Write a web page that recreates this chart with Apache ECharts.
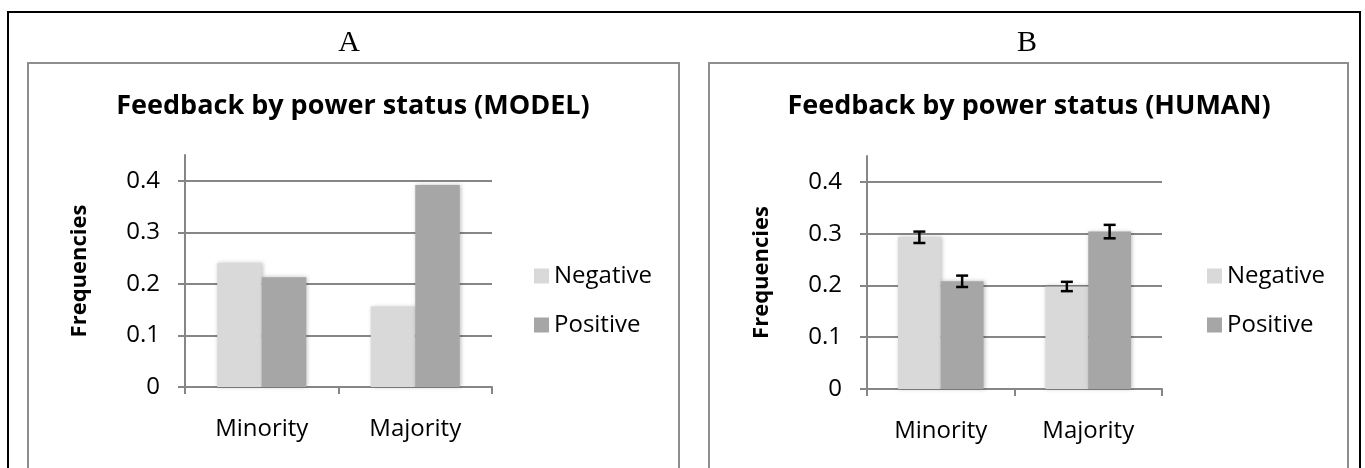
<!DOCTYPE html>
<html>
<head>
<meta charset="utf-8">
<script src="https://cdn.jsdelivr.net/npm/echarts@6/dist/echarts.min.js"></script>
<style>
html,body{margin:0;padding:0;background:#fff;}
#chart{width:1365px;height:468px;}
</style>
</head>
<body>
<div id="chart"></div>
<script>
// ---- data ----
const categories = ['Minority', 'Majority'];
const seriesNames = ['Negative', 'Positive'];
const modelNegative = [0.240, 0.156];
const modelPositive = [0.213, 0.392];
const humanNegative = [0.293, 0.198];
const humanPositive = [0.208, 0.304];
const humanNegativeErr = [0.011, 0.009];
const humanPositiveErr = [0.011, 0.013];
const yTicks = [0, 0.1, 0.2, 0.3, 0.4];
const panelLetters = ['A', 'B'];
const chartTitles = ['Feedback by power status (MODEL)', 'Feedback by power status (HUMAN)'];
const yAxisTitle = 'Frequencies';

// ---- style ----
const FONT = '"Open Sans", "Noto Sans", sans-serif';
const AXIS_GRAY = '#868686';
const NEG_COLOR = '#d9d9d9';
const POS_COLOR = '#a6a6a6';
const CAT_GAP = 0.42;

const chart = echarts.init(document.getElementById('chart'), null, {renderer: 'canvas'});

function xAxisFor(gi) {
  return {
    type: 'category', gridIndex: gi, data: categories,
    axisLine: {show: true, lineStyle: {color: AXIS_GRAY, width: 2}},
    axisTick: {show: true, length: 7, lineStyle: {color: AXIS_GRAY, width: 2}},
    axisLabel: {fontSize: 24, color: '#000', fontFamily: FONT, margin: 30},
    splitLine: {show: false}
  };
}
function yAxisFor(gi) {
  return {
    type: 'value', gridIndex: gi, min: 0, max: 0.45, interval: 0.1,
    name: yAxisTitle, nameLocation: 'middle', nameRotate: 90, nameGap: 94,
    nameTextStyle: {fontSize: 22, fontWeight: 'bold', color: '#000', fontFamily: FONT},
    axisLine: {show: true, lineStyle: {color: AXIS_GRAY, width: 2}},
    axisTick: {show: true, length: 7, customValues: yTicks, lineStyle: {color: AXIS_GRAY, width: 2}},
    axisLabel: {fontSize: 24, color: '#000', fontFamily: FONT, margin: 25,
      customValues: yTicks,
      formatter: v => String(Math.round(v * 10) / 10)},
    splitLine: {show: true, lineStyle: {color: AXIS_GRAY, width: 2}}
  };
}
function barSeries(name, gi, data, color) {
  return {
    type: 'bar', name: name, xAxisIndex: gi, yAxisIndex: gi, data: data,
    barGap: '0%', barCategoryGap: (CAT_GAP * 100) + '%',
    itemStyle: {color: color, shadowBlur: 4, shadowColor: 'rgba(0,0,0,0.25)', shadowOffsetX: 1},
    emphasis: {disabled: true}, z: 2
  };
}
function errSeries(gi, values, errs, side) {
  return {
    type: 'custom', name: 'err' + side, xAxisIndex: gi, yAxisIndex: gi, z: 5,
    data: categories.map((c, i) => [i, values[i], errs[i]]),
    renderItem: function (params, api) {
      const ci = api.value(0), v = api.value(1), e = api.value(2);
      const band = api.size([1, 0])[0];
      const bw = band * (1 - CAT_GAP) / 2;
      const top = api.coord([ci, v + e]);
      const bot = api.coord([ci, v - e]);
      const x = top[0] + side * bw / 2;
      const cap = 6;
      const st = {stroke: '#000', lineWidth: 2.5};
      return {type: 'group', children: [
        {type: 'line', shape: {x1: x, y1: top[1], x2: x, y2: bot[1]}, style: st},
        {type: 'line', shape: {x1: x - cap, y1: top[1], x2: x + cap, y2: top[1]}, style: st},
        {type: 'line', shape: {x1: x - cap, y1: bot[1], x2: x + cap, y2: bot[1]}, style: st}
      ]};
    }
  };
}

const legendBase = {
  data: seriesNames, orient: 'vertical', top: 264, padding: 0,
  itemWidth: 15, itemHeight: 15, itemGap: 25, icon: 'rect', selectedMode: false,
  textStyle: {fontSize: 24, lineHeight: 24, color: '#000', fontFamily: FONT}
};

const option = {
  animation: false,
  backgroundColor: '#fff',
  grid: [
    {left: 185, top: 155, width: 307, height: 232, containLabel: false},
    {left: 867, top: 156, width: 295, height: 233, containLabel: false}
  ],
  xAxis: [xAxisFor(0), xAxisFor(1)],
  yAxis: [yAxisFor(0), yAxisFor(1)],
  legend: [
    Object.assign({}, legendBase, {left: 534}),
    Object.assign({}, legendBase, {left: 1207})
  ],
  series: [
    barSeries(seriesNames[0], 0, modelNegative, NEG_COLOR),
    barSeries(seriesNames[1], 0, modelPositive, POS_COLOR),
    barSeries(seriesNames[0], 1, humanNegative, NEG_COLOR),
    barSeries(seriesNames[1], 1, humanPositive, POS_COLOR),
    errSeries(1, humanNegative, humanNegativeErr, -1),
    errSeries(1, humanPositive, humanPositiveErr, 1)
  ],
  graphic: [
    {type: 'rect', silent: true, z: -1, shape: {x: 8, y: 12, width: 1352, height: 520},
     style: {fill: 'none', stroke: '#000', lineWidth: 2}},
    {type: 'rect', silent: true, z: -1, shape: {x: 28, y: 63, width: 651, height: 500},
     style: {fill: 'none', stroke: '#8e8e8e', lineWidth: 2}},
    {type: 'rect', silent: true, z: -1, shape: {x: 709, y: 63, width: 639, height: 500},
     style: {fill: 'none', stroke: '#8e8e8e', lineWidth: 2}},
    {type: 'text', silent: true, x: 349, y: 43,
     style: {text: panelLetters[0], fill: '#000', font: '30px "Liberation Serif", "DejaVu Serif", serif', align: 'center', verticalAlign: 'middle'}},
    {type: 'text', silent: true, x: 1027, y: 43,
     style: {text: panelLetters[1], fill: '#000', font: '30px "Liberation Serif", "DejaVu Serif", serif', align: 'center', verticalAlign: 'middle'}},
    {type: 'text', silent: true, x: 353, y: 106,
     style: {text: chartTitles[0], fill: '#000', font: 'bold 27px ' + FONT, align: 'center', verticalAlign: 'middle'}},
    {type: 'text', silent: true, x: 1029, y: 106,
     style: {text: chartTitles[1], fill: '#000', font: 'bold 27px ' + FONT, align: 'center', verticalAlign: 'middle'}}
  ]
};
chart.setOption(option);
</script>
</body>
</html>
